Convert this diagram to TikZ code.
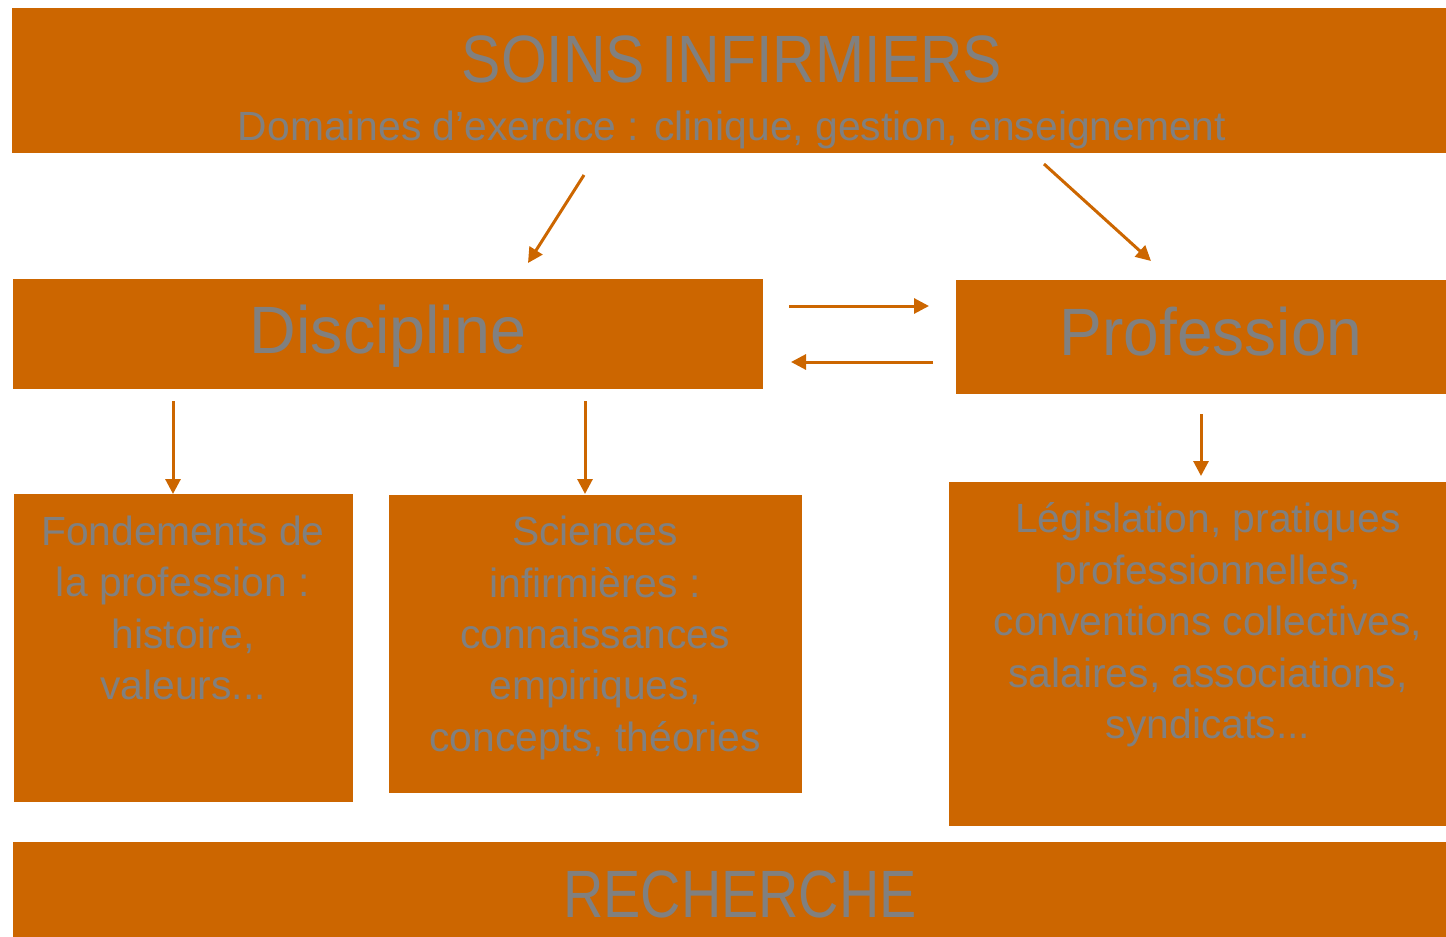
\documentclass[tikz,border=0pt]{standalone}
\usepackage{fontspec}
\setmainfont{Liberation Sans}
\usetikzlibrary{arrows.meta}

\definecolor{orangebox}{HTML}{CC6600}
\definecolor{grisbox}{HTML}{808080}

\tikzset{
  bloc/.style={draw=none,fill=orangebox},
  texte/.style={text=grisbox,inner sep=0pt,align=center},
  titre/.style={texte,anchor=base,font=\fontsize{33.5pt}{38pt}\selectfont\addfontfeature{FakeStretch=#1}},
  corps/.style={texte,font=\fontsize{20.4pt}{25.7pt}\selectfont},
  fleche/.style={draw=orangebox,line width=1.5pt,-{Triangle[length=7.5pt,width=7.5pt]}}
}

\begin{document}
\begin{tikzpicture}[x=0.5pt,y=-0.5pt]
\useasboundingbox (0,0) rectangle (1446,937);

% boites
\fill[bloc] (12,8) rectangle (1446,153);
\fill[bloc] (13,279) rectangle (763,389);
\fill[bloc] (956,280) rectangle (1446,394);
\fill[bloc] (14,494) rectangle (353,802);
\fill[bloc] (389,495) rectangle (802,793);
\fill[bloc] (949,482) rectangle (1446,826);
\fill[bloc] (13,842) rectangle (1446,937);

% textes
\node[titre=0.88] (soins) at (732,83) {SOINS INFIRMIERS};
\node[texte,anchor=base,font=\fontsize{20.4pt}{24pt}\selectfont] (domaines) at (732,140) {Domaines d'exercice : clinique, gestion, enseignement};
\node[titre=0.964] (discipline) at (388,353) {Discipline};
\node[titre=0.956] (profession) at (1211,355) {Profession};
\node[corps] (fondements) at (183,608) {Fondements de\\la profession :\\histoire,\\valeurs...};
\node[corps] (sciences) at (595,638) {Sciences\\infirmières :\\connaissances\\empiriques,\\concepts, théories};
\node[corps] (legislation) at (1208,625) {Législation, pratiques\\professionnelles,\\conventions collectives,\\salaires, associations,\\syndicats...};
\node[titre=0.833] (recherche) at (740,917) {RECHERCHE};

% fleches
\coordinate (a1) at (584,175);  \coordinate (a2) at (528,263);
\coordinate (b1) at (1044,164); \coordinate (b2) at (1151,261);
\coordinate (c1) at (789,306);  \coordinate (c2) at (929,306);
\coordinate (d1) at (933,362);  \coordinate (d2) at (791,362);
\coordinate (e1) at (173,401);  \coordinate (e2) at (173,494);
\coordinate (f1) at (585,401);  \coordinate (f2) at (585,494);
\coordinate (g1) at (1201,414); \coordinate (g2) at (1201,476);

\draw[fleche] (a1) -- (a2);
\draw[fleche] (b1) -- (b2);
\draw[fleche] (c1) -- (c2);
\draw[fleche] (d1) -- (d2);
\draw[fleche] (e1) -- (e2);
\draw[fleche] (f1) -- (f2);
\draw[fleche] (g1) -- (g2);
\end{tikzpicture}
\end{document}
